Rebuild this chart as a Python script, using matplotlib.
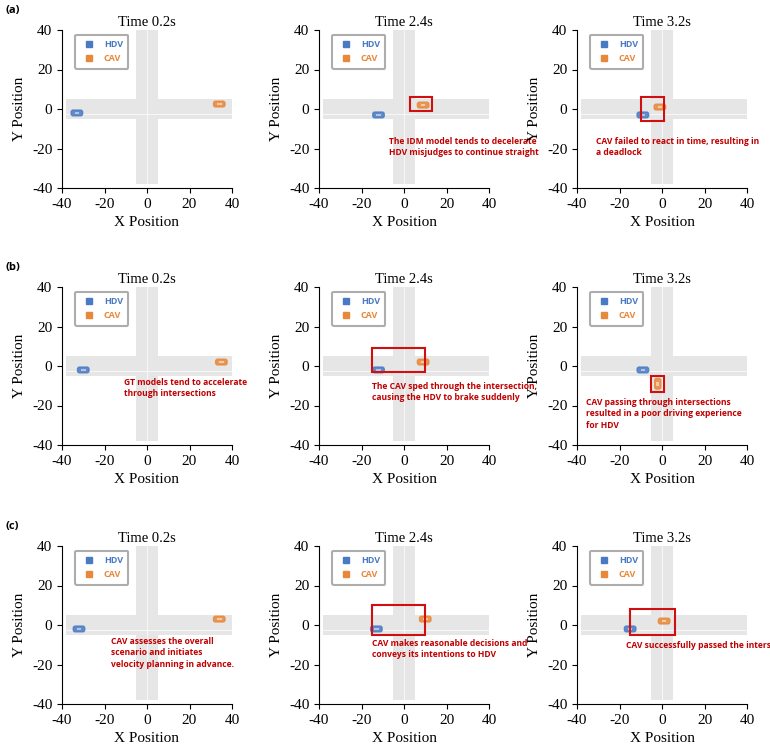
import numpy as np
import matplotlib
matplotlib.use('Agg')
import matplotlib.pyplot as plt
from matplotlib.patches import FancyBboxPatch, Rectangle
from matplotlib.lines import Line2D

plt.rcParams['font.family'] = ['Liberation Serif']
plt.rcParams['axes.unicode_minus'] = False

times = ['Time 0.2s', 'Time 2.4s', 'Time 3.2s']
row_labels = ['(a)', '(b)', '(c)']
# car positions (x, y) per row / per time
hdv_pos = [[(-33, -2), (-12, -3), (-9, -3)],
           [(-30, -2), (-12, -2), (-9, -2)],
           [(-32, -2), (-13, -2), (-15, -2)]]
cav_pos = [[(34, 2.5), (9, 2), (-1, 1)],
           [(35, 2), (9, 2), (-2, -9)],
           [(34, 3), (10, 3), (1, 2)]]
cav_vertical = [[False, False, False], [False, False, True], [False, False, False]]
# red boxes (x0, y0, w, h) or None
boxes = [[None, (3, -1, 10, 7), (-10, -6, 11, 12)],
         [None, (-15, -3, 25, 12), (-5, -13, 6, 8)],
         [None, (-15, -5, 25, 15), (-15, -5, 21, 13)]]
notes = [[None,
          ('The IDM model tends to decelerate\nHDV misjudges to continue straight', -7, -14),
          ('CAV failed to react in time, resulting in\na deadlock', -31, -14)],
         [('GT models tend to accelerate\nthrough intersections', -11, -6),
          ('The CAV sped through the intersection,\ncausing the HDV to brake suddenly', -15, -8),
          ('CAV passing through intersections\nresulted in a poor driving experience\nfor HDV', -36, -16)],
         [('CAV assesses the overall\nscenario and initiates\nvelocity planning in advance.', -17, -6),
          ('CAV makes reasonable decisions and\nconveys its intentions to HDV', -15, -7),
          ('CAV successfully passed the intersection.', -17, -8)]]

hdv_c = '#4a7ac4'
cav_c = '#e8883a'
road_c = '#e6e6e6'
note_c = '#c00000'

fig = plt.figure(figsize=(7.7, 7.52), dpi=100)
W, H = 770, 752
lefts = [62, 319, 577]
tops = [30, 287, 546]
aw, ah = 170, 158


def car(ax, x, y, color, vertical=False):
    w, h = (2.5, 5) if vertical else (5, 2.5)
    ax.add_patch(FancyBboxPatch((x - w / 2, y - h / 2), w, h, boxstyle='round,pad=0.2,rounding_size=1',
                                fc=color, ec=color, alpha=0.85, zorder=4))
    ww, hh = (1.4, 2.2) if vertical else (2.2, 1.4)
    ax.add_patch(Rectangle((x - ww / 2, y - hh / 2), ww, hh, fc='white', ec='none', alpha=0.5, zorder=5))


for r in range(3):
    for c in range(3):
        ax = fig.add_axes([lefts[c] / W, 1 - (tops[r] + ah) / H, aw / W, ah / H])
        ax.set_xlim(-40, 40)
        ax.set_ylim(-40, 40)
        ax.add_patch(Rectangle((-38, -5), 78, 10, fc=road_c, ec='none', zorder=1))
        ax.add_patch(Rectangle((-5, -38), 10, 78, fc=road_c, ec='none', zorder=1))
        ax.plot([-38, 40], [-2.5, -2.5], color='white', lw=0.5, zorder=2)
        ax.plot([0, 0], [-38, 40], color='white', lw=0.5, zorder=2)
        car(ax, *hdv_pos[r][c], hdv_c)
        car(ax, *cav_pos[r][c], cav_c, cav_vertical[r][c])
        if boxes[r][c]:
            x0, y0, bw, bh = boxes[r][c]
            ax.add_patch(Rectangle((x0, y0), bw, bh, fill=False, ec='#d01010', lw=1.5, zorder=6))
        if notes[r][c]:
            t, tx, ty = notes[r][c]
            ax.text(tx, ty, t, color=note_c, fontsize=6.1, fontweight='bold', family='Open Sans',
                    va='top', ha='left', linespacing=1.35, zorder=7)
        handles = [Line2D([], [], marker='s', ls='none', color=hdv_c, ms=5),
                   Line2D([], [], marker='s', ls='none', color=cav_c, ms=5)]
        leg = ax.legend(handles, ['HDV', 'CAV'], loc='upper left', bbox_to_anchor=(0.05, 1.0),
                        prop={'family': 'Open Sans', 'size': 6.5, 'weight': 'bold'},
                        frameon=True, fancybox=True, edgecolor='#999999', handletextpad=0.6,
                        borderpad=0.6, labelspacing=0.6)
        leg.get_frame().set_linewidth(1.5)
        for txt, col in zip(leg.get_texts(), [hdv_c, cav_c]):
            txt.set_color(col)
        ax.spines['top'].set_visible(False)
        ax.spines['right'].set_visible(False)
        ax.set_xticks([-40, -20, 0, 20, 40])
        ax.set_yticks([-40, -20, 0, 20, 40])
        ax.tick_params(labelsize=11)
        ax.set_title(times[c], fontsize=10.5, pad=3)
        ax.set_xlabel('X Position', fontsize=11)
        ax.set_ylabel('Y Position', fontsize=11)
    fig.text(5 / W, 1 - (tops[r] - 20) / H, row_labels[r], fontsize=8, fontweight='bold',
             family='Open Sans', va='center')

fig.savefig('out.png', dpi=100)
